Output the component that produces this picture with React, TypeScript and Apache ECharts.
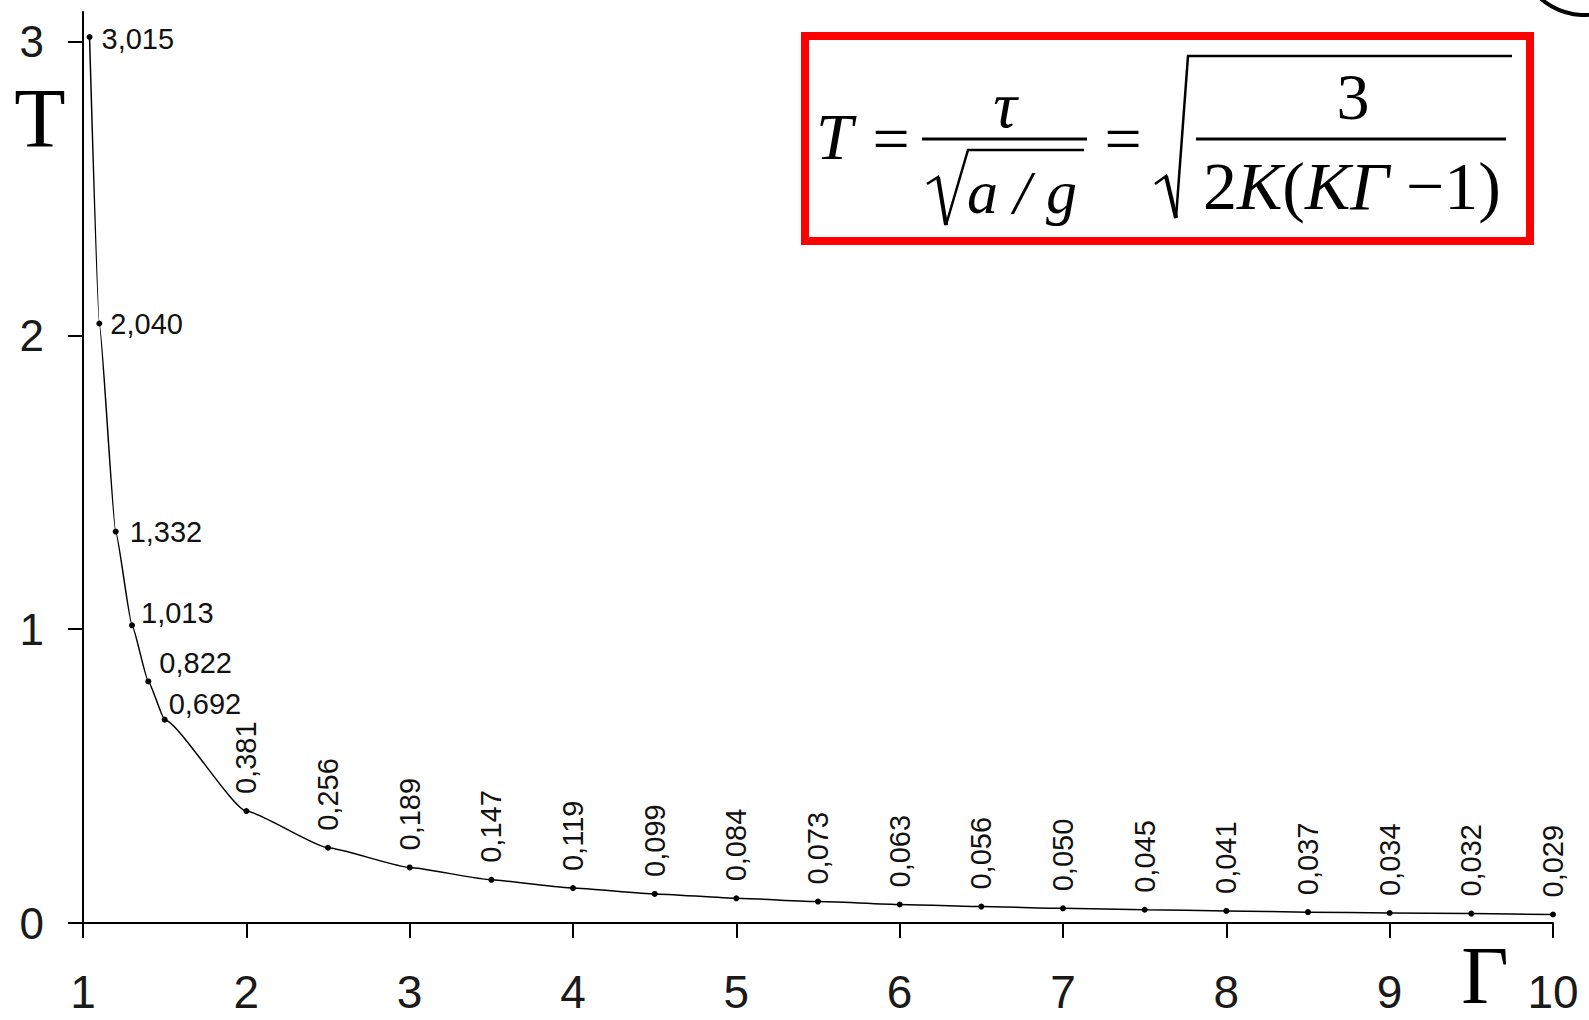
import React, { useEffect, useRef } from "react";
import * as echarts from "echarts";

const gammaValues = [1.04, 1.1, 1.2, 1.3, 1.4, 1.5, 2, 2.5, 3, 3.5, 4, 4.5, 5, 5.5, 6, 6.5, 7, 7.5, 8, 8.5, 9, 9.5, 10];
const tValues = [3.015, 2.04, 1.332, 1.013, 0.822, 0.692, 0.381, 0.256, 0.189, 0.147, 0.119, 0.099, 0.084, 0.073, 0.063, 0.056, 0.05, 0.045, 0.041, 0.037, 0.034, 0.032, 0.029];
const yTicks = [0, 1, 2, 3];
const xTicks = [1, 2, 3, 4, 5, 6, 7, 8, 9, 10];
// label offsets for the first (horizontal) labels
const horizOffsets: [number, number][] = [[3, 2], [2, 0], [5, 0], [0, -12], [2, -18], [-5, -16]];

const fmt = (v: number) => v.toFixed(3).replace(".", ",");

export default function App() {
  const ref = useRef<HTMLDivElement>(null);
  useEffect(() => {
    document.body.style.margin = "0";
    const chart = echarts.init(ref.current!, null, { renderer: "svg" });
    const labelFont = { fontFamily: "Liberation Sans", fontSize: 29, color: "#111" };
    const data = gammaValues.map((g, i) => {
      const horiz = i < horizOffsets.length;
      return {
        value: [g, tValues[i]],
        label: horiz
          ? { show: true, position: "right", distance: 6, offset: horizOffsets[i], formatter: fmt(tValues[i]), ...labelFont }
          : {
              show: true,
              position: "top",
              distance: 14,
              rotate: 90,
              align: "left",
              verticalAlign: "middle",
              formatter: fmt(tValues[i]),
              ...labelFont,
            },
      };
    });
    const serif = "Liberation Serif";
    const F = 66;
    const graphic: any[] = [
      // axis names
      { type: "text", x: 40, y: 118, style: { text: "T", font: `84px ${serif}`, fill: "#000", align: "center", verticalAlign: "middle" } },
      { type: "text", x: 1485, y: 975, style: { text: "Γ", font: `82px ${serif}`, fill: "#000", align: "center", verticalAlign: "middle" } },
      // formula box
      { type: "rect", shape: { x: 805, y: 36, width: 725, height: 205 }, style: { fill: "#fff", stroke: "#ff0000", lineWidth: 8 } },
      { type: "text", x: 816, y: 136, style: { text: "T", font: `italic ${F}px ${serif}`, fill: "#000", align: "left", verticalAlign: "middle" } },
      { type: "text", x: 891, y: 138, style: { text: "=", font: `${F}px ${serif}`, fill: "#000", align: "center", verticalAlign: "middle" } },
      { type: "text", x: 1005, y: 104, style: { text: "τ", font: `italic ${F}px ${serif}`, fill: "#000", align: "center", verticalAlign: "middle" } },
      { type: "line", shape: { x1: 922, y1: 139, x2: 1087, y2: 139 }, style: { stroke: "#000", lineWidth: 3 } },
      { type: "polyline", shape: { points: [[927, 184], [938, 177], [946, 225], [968, 150], [1084, 150]] }, style: { stroke: "#000", lineWidth: 2.5, fill: null } },
      { type: "line", shape: { x1: 938, y1: 177, x2: 946, y2: 225 }, style: { stroke: "#000", lineWidth: 4 } },
      { type: "text", x: 1022, y: 192, style: { text: "a / g", font: `italic 62px ${serif}`, fill: "#000", align: "center", verticalAlign: "middle" } },
      { type: "text", x: 1123, y: 138, style: { text: "=", font: `${F}px ${serif}`, fill: "#000", align: "center", verticalAlign: "middle" } },
      { type: "polyline", shape: { points: [[1155, 184], [1166, 176], [1176, 218], [1188, 56], [1512, 56]] }, style: { stroke: "#000", lineWidth: 2.5, fill: null } },
      { type: "line", shape: { x1: 1166, y1: 176, x2: 1176, y2: 218 }, style: { stroke: "#000", lineWidth: 4 } },
      { type: "text", x: 1353, y: 96, style: { text: "3", font: `${F}px ${serif}`, fill: "#000", align: "center", verticalAlign: "middle" } },
      { type: "line", shape: { x1: 1196, y1: 139, x2: 1506, y2: 139 }, style: { stroke: "#000", lineWidth: 3 } },
      {
        type: "text",
        x: 1352,
        y: 186,
        style: {
          text: "{n|2}{i|K}{n|(}{i|KΓ}{n| −1)}",
          align: "center",
          verticalAlign: "middle",
          fill: "#000",
          rich: {
            n: { fontFamily: serif, fontSize: 68, fill: "#000" },
            i: { fontFamily: serif, fontSize: 68, fontStyle: "italic", fill: "#000" },
          },
        },
      },
      // partial logo top-right
      { type: "circle", shape: { cx: 1584, cy: -50, r: 65 }, style: { fill: null, stroke: "#000", lineWidth: 4 } },
    ];
    chart.setOption({
      animation: false,
      backgroundColor: "#fff",
      grid: { left: 83, right: 36, top: 12, bottom: 97, containLabel: false },
      xAxis: {
        type: "value",
        min: 1,
        max: 10,
        interval: 1,
        axisLine: { lineStyle: { color: "#000", width: 2 } },
        axisTick: { show: true, length: 15, lineStyle: { color: "#000", width: 2 }, customValues: xTicks },
        axisLabel: { margin: 46, fontFamily: "Liberation Sans", fontSize: 46, color: "#1a1a1a", customValues: xTicks },
        splitLine: { show: false },
      },
      yAxis: {
        type: "value",
        min: 0,
        max: 3.1,
        axisLine: { show: true, lineStyle: { color: "#000", width: 2 } },
        axisTick: { show: true, length: 15, lineStyle: { color: "#000", width: 2 }, customValues: yTicks },
        axisLabel: { margin: 39, fontFamily: "Liberation Sans", fontSize: 44, color: "#1a1a1a", customValues: yTicks },
        splitLine: { show: false },
      },
      series: [
        {
          type: "line",
          data,
          smooth: 0.15,
          smoothMonotone: "x",
          symbol: "circle",
          symbolSize: 6,
          itemStyle: { color: "#000" },
          lineStyle: { color: "#000", width: 1.5 },
          z: 3,
        },
      ],
      graphic,
    });
    return () => chart.dispose();
  }, []);
  return <div ref={ref} style={{ position: "absolute", left: 0, top: 0, width: 1589, height: 1020 }} />;
}
